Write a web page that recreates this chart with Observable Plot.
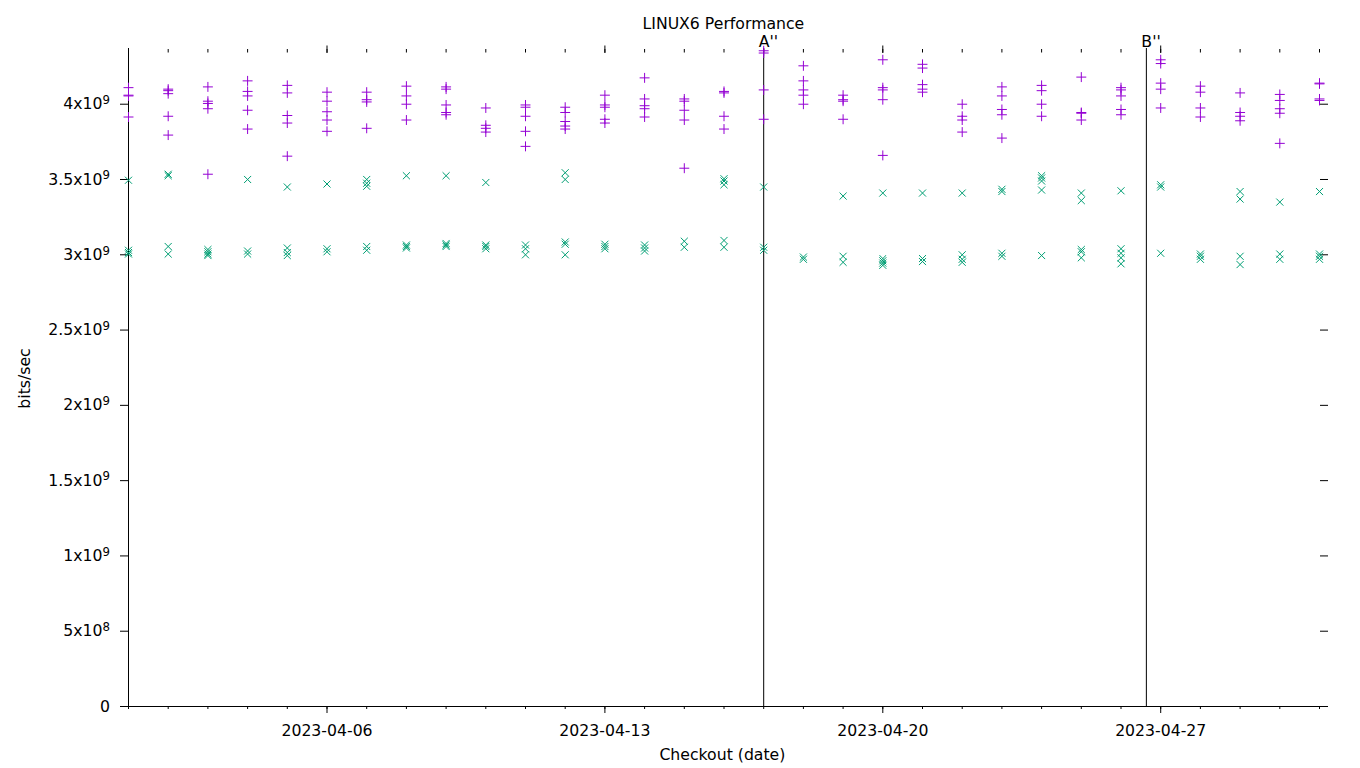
<!DOCTYPE html>
<html>
<head>
<meta charset="utf-8">
<script src="https://cdn.jsdelivr.net/npm/d3@7"></script>
<script src="https://cdn.jsdelivr.net/npm/@observablehq/plot@0.6"></script>
<style>
  html, body { margin: 0; padding: 0; background: #fff; }
  #chart { width: 1360px; height: 768px; }
</style>
</head>
<body>
<div id="chart"></div>
<script>
// ---- data (values in units of 1e9 bits/sec) ----
const days = ["2023-04-01","2023-04-02","2023-04-03","2023-04-04","2023-04-05","2023-04-06","2023-04-07","2023-04-08","2023-04-09","2023-04-10","2023-04-11","2023-04-12","2023-04-13","2023-04-14","2023-04-15","2023-04-16","2023-04-17","2023-04-18","2023-04-19","2023-04-20","2023-04-21","2023-04-22","2023-04-23","2023-04-24","2023-04-25","2023-04-26","2023-04-27","2023-04-28","2023-04-29","2023-04-30","2023-05-01"];

const plusSeries = [
  [4.11, 4.06, 4.055, 3.915],
  [4.10, 4.09, 4.07, 3.92, 3.795],
  [4.115, 4.02, 4.005, 3.97, 3.535],
  [4.155, 4.085, 4.055, 3.96, 3.835],
  [4.125, 4.075, 3.925, 3.875, 3.655],
  [4.08, 4.02, 3.95, 3.895, 3.82],
  [4.08, 4.03, 4.015, 3.84],
  [4.12, 4.055, 4.00, 3.895],
  [4.115, 4.10, 3.995, 3.945, 3.93],
  [3.975, 3.86, 3.84, 3.815],
  [3.995, 3.98, 3.92, 3.82, 3.72],
  [3.98, 3.945, 3.885, 3.855, 3.835],
  [4.06, 3.995, 3.98, 3.90, 3.875],
  [4.175, 4.035, 3.99, 3.97, 3.915],
  [4.035, 4.02, 3.96, 3.895, 3.575],
  [4.085, 4.075, 3.92, 3.835],
  [4.355, 4.34, 4.095, 3.90],
  [4.255, 4.155, 4.095, 4.06, 4.00],
  [4.06, 4.03, 4.02, 3.90],
  [4.295, 4.11, 4.095, 4.03, 3.66],
  [4.265, 4.24, 4.13, 4.10, 4.08],
  [4.00, 3.92, 3.895, 3.815],
  [4.115, 4.055, 3.965, 3.93, 3.775],
  [4.125, 4.09, 4.00, 3.92],
  [4.18, 3.945, 3.94, 3.895],
  [4.11, 4.095, 4.055, 3.965, 3.93],
  [4.295, 4.27, 4.14, 4.10, 3.975],
  [4.12, 4.08, 3.975, 3.915],
  [4.075, 3.945, 3.92, 3.89],
  [4.065, 4.025, 3.97, 3.94, 3.74],
  [4.14, 4.135, 4.035, 4.025]
];

const timesSeries = [
  [3.495, 3.03, 3.015, 3.005],
  [3.535, 3.525, 3.055, 3.005],
  [3.035, 3.02, 3.005, 2.995],
  [3.50, 3.025, 3.005],
  [3.45, 3.045, 3.015, 2.995],
  [3.47, 3.04, 3.02],
  [3.50, 3.475, 3.455, 3.055, 3.03],
  [3.525, 3.065, 3.055, 3.045],
  [3.525, 3.075, 3.065, 3.055],
  [3.48, 3.065, 3.055, 3.04],
  [3.065, 3.04, 3.00],
  [3.545, 3.50, 3.085, 3.07, 3.00],
  [3.07, 3.055, 3.04],
  [3.065, 3.045, 3.025],
  [3.09, 3.05],
  [3.505, 3.49, 3.465, 3.095, 3.05],
  [3.45, 3.05, 3.03],
  [2.985, 2.97],
  [3.39, 2.99, 2.95],
  [3.41, 2.975, 2.96, 2.945, 2.93],
  [3.41, 2.975, 2.955],
  [3.41, 3.00, 2.97, 2.95],
  [3.435, 3.42, 3.01, 2.99],
  [3.525, 3.51, 3.49, 3.43, 2.995],
  [3.41, 3.36, 3.035, 3.02, 2.98],
  [3.425, 3.04, 3.01, 2.98, 2.94],
  [3.465, 3.45, 3.01],
  [3.005, 2.99, 2.97],
  [3.42, 3.37, 2.99, 2.935],
  [3.35, 3.005, 2.97],
  [3.42, 3.005, 2.99, 2.97]
];

const majorDays = ["2023-04-06","2023-04-13","2023-04-20","2023-04-27"];
const yTicks = [0, 0.5e9, 1e9, 1.5e9, 2e9, 2.5e9, 3e9, 3.5e9, 4e9];
const yTickLabels = ["0","5x10^8","1x10^9","1.5x10^9","2x10^9","2.5x10^9","3x10^9","3.5x10^9","4x10^9"];
const markerTimes = ["2023-04-17T00:00Z", "2023-04-26T15:20Z"];
const markerLabels = ["A''", "B''"];
const xDomain = ["2023-04-01T00:00Z", "2023-05-01T04:50Z"];
const yDomain = [0, 4.37e9];

const titleText = "LINUX6 Performance";
const xLabel = "Checkout (date)";
const yLabel = "bits/sec";

// ---- build tables ----
const parseDay = d => new Date(d + "T00:00Z");
const plusData = plusSeries.flatMap((vals, i) => vals.map(v => ({date: parseDay(days[i]), value: v * 1e9})));
const timesData = timesSeries.flatMap((vals, i) => vals.map(v => ({date: parseDay(days[i]), value: v * 1e9})));
const allDays = days.map(parseDay);
const majors = majorDays.map(parseDay);
const markers = markerTimes.map((t, i) => ({date: new Date(t), label: markerLabels[i]}));
const x0 = new Date(xDomain[0]);

const FS = 15.7;
const font = "DejaVu Sans";

const chart = Plot.plot({
  width: 1360,
  height: 768,
  marginLeft: 128,
  marginRight: 33,
  marginTop: 48,
  marginBottom: 62,
  style: {fontFamily: font, fontSize: FS + "px", color: "#000", background: "#fff"},
  x: {type: "utc", domain: xDomain.map(d => new Date(d)), label: null},
  y: {domain: yDomain, label: null},
  marks: [
    // axis lines
    Plot.ruleX([x0], {stroke: "#000", strokeWidth: 1}),
    Plot.ruleY([0], {stroke: "#000", strokeWidth: 1}),
    // bottom ticks
    Plot.axisX({ticks: allDays, tickSize: 3, fill: "none", label: null}),
    Plot.axisX({ticks: majors, tickSize: 7, tickPadding: 11, tickFormat: d3.utcFormat("%Y-%m-%d"), fontSize: FS, label: null}),
    // top mirror ticks
    Plot.axisX({anchor: "top", ticks: allDays, tickSize: -3.5, fill: "none", label: null}),
    Plot.axisX({anchor: "top", ticks: majors, tickSize: 3.5, fill: "none", label: null}),
    Plot.axisX({anchor: "top", ticks: majors, tickSize: -4, fill: "none", label: null}),
    // y axes
    Plot.axisY({ticks: yTicks, tickSize: 8, tickPadding: 10.5, tickFormat: (d) => yTickLabels[yTicks.indexOf(d)], fontSize: FS, label: null}),
    Plot.axisY({anchor: "right", ticks: yTicks, tickSize: -8, fill: "none", label: null}),
    // marker lines
    Plot.ruleX(markers, {x: "date", stroke: "#000", strokeWidth: 1}),
    Plot.text(markers, {x: "date", text: "label", frameAnchor: "top", lineAnchor: "middle", textAnchor: "start", dx: -5, dy: -7, fontSize: FS, fill: "#000"}),
    // data
    Plot.dot(plusData, {x: "date", y: "value", symbol: "plus", r: 3.3, stroke: "#9400d3", strokeWidth: 1, fill: "none"}),
    Plot.dot(timesData, {x: "date", y: "value", symbol: "times", r: 3.3, stroke: "#009e73", strokeWidth: 1, fill: "none"}),
    // titles
    Plot.text([titleText], {text: d => d, frameAnchor: "top", lineAnchor: "middle", textAnchor: "middle", dx: -4.6, dy: -25, fontSize: FS, fill: "#000"}),
    Plot.text([xLabel], {text: d => d, frameAnchor: "bottom", lineAnchor: "middle", textAnchor: "middle", dx: -5.6, dy: 48.5, fontSize: FS, fill: "#000"}),
    Plot.text([yLabel], {text: d => d, frameAnchor: "left", lineAnchor: "middle", textAnchor: "middle", rotate: -90, dx: -103.5, dy: 1, fontSize: FS, fill: "#000"})
  ]
});

// superscript exponents on y tick labels
d3.select(chart).selectAll('g[aria-label="y-axis tick label"] text').each(function() {
  const t = this.textContent;
  const m = t.match(/^(.*)\^(.*)$/);
  if (!m) return;
  const sel = d3.select(this);
  sel.text(null);
  sel.append("tspan").text(m[1]);
  sel.append("tspan").attr("dy", "-0.45em").attr("font-size", "0.75em").text(m[2]);
});

document.getElementById("chart").appendChild(chart);
</script>
</body>
</html>
